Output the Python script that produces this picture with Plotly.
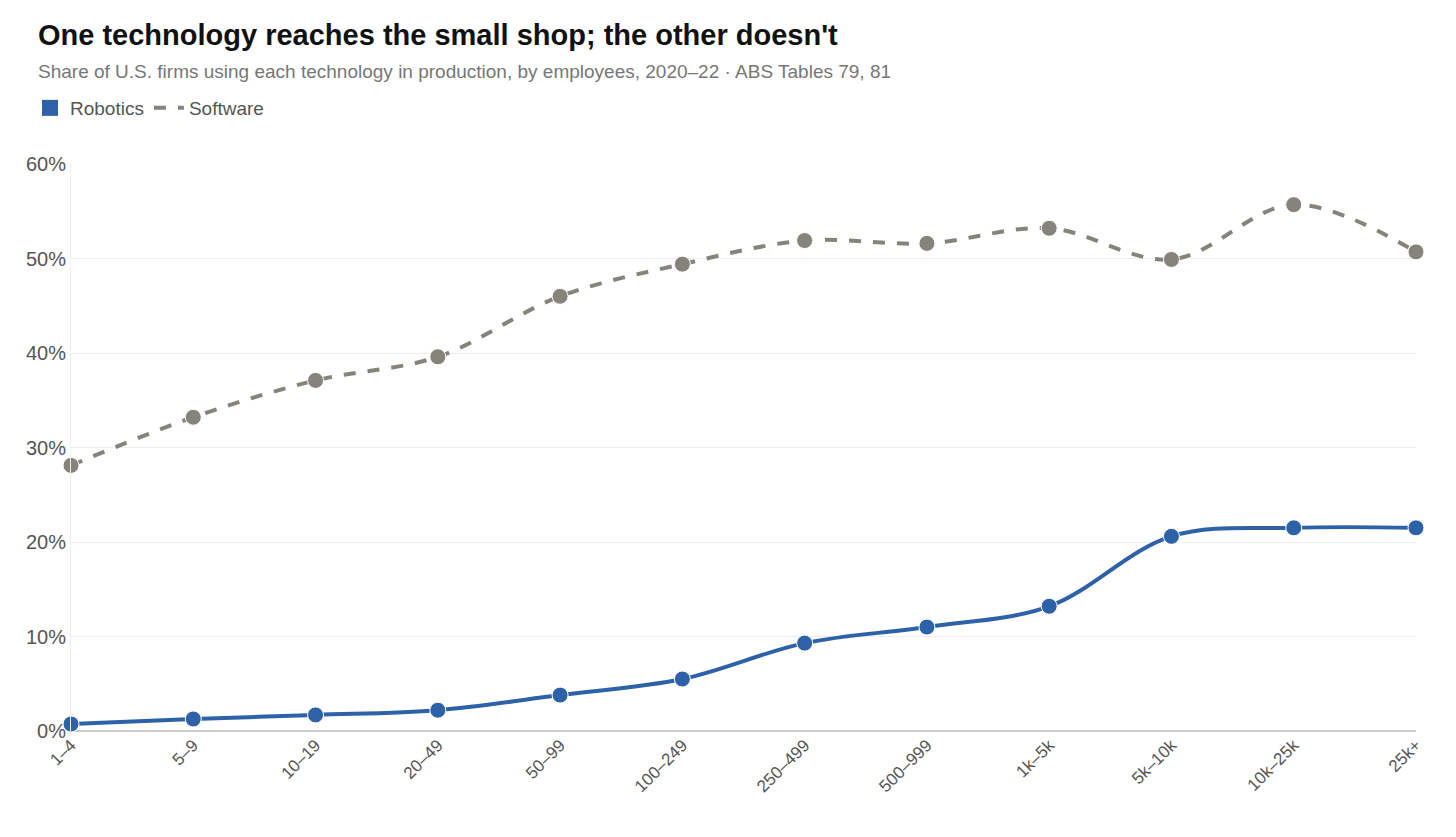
import plotly.graph_objects as go

categories = ["1–4","5–9","10–19","20–49","50–99","100–249","250–499","500–999","1k–5k","5k–10k","10k–25k","25k+"]
robotics = [0.74,1.27,1.7,2.2,3.8,5.5,9.3,11.0,13.2,20.6,21.5,21.5]
software = [28.1,33.2,37.1,39.6,46.0,49.4,51.9,51.6,53.2,49.9,55.7,50.7]

BLUE = "#2e62a8"
GREY = "#86847a"

W, H = 1440, 820
L, R, T, B = 63, 32, 156, 97

fig = go.Figure()
fig.add_trace(go.Scatter(x=categories, y=software, mode="lines+markers", showlegend=False,
    line=dict(color=GREY, width=4, dash="dash", shape="spline"),
    marker=dict(size=16, color=GREY, line=dict(color="white", width=1)), cliponaxis=False))
fig.add_trace(go.Scatter(x=categories, y=robotics, mode="lines+markers", showlegend=False,
    line=dict(color=BLUE, width=4, shape="spline"),
    marker=dict(size=16, color=BLUE, line=dict(color="white", width=1)), cliponaxis=False))
fig.add_trace(go.Scatter(x=[None], y=[None], mode="markers", name="Robotics",
    marker=dict(symbol="square", size=19, color=BLUE)))
fig.add_trace(go.Scatter(x=[None], y=[None], mode="lines", name="Software",
    line=dict(color=GREY, width=4, dash="dash")))

ph = H - T - B
def ypx(p):  # fig pixel from top -> paper y
    return (H - B - p) / ph
def xpx(p):
    return (p - L) / (W - L - R)

fig.update_layout(
    width=W, height=H, plot_bgcolor="white", paper_bgcolor="white",
    font=dict(family="Liberation Sans, Arial", color="#555"),
    margin=dict(l=L, r=R, t=T, b=B, autoexpand=False),
    annotations=[
        dict(text="<b>One technology reaches the small shop; the other doesn't</b>", x=xpx(28), y=ypx(27),
             xref="paper", yref="paper", xanchor="left", yanchor="middle", showarrow=False,
             font=dict(size=29, color="#111")),
        dict(text="Share of U.S. firms using each technology in production, by employees, 2020–22 · ABS Tables 79, 81",
             x=xpx(28), y=ypx(63), xref="paper", yref="paper", xanchor="left", yanchor="middle",
             showarrow=False, font=dict(size=19, color="#777")),
    ],
    legend=dict(orientation="h", x=xpx(22), xanchor="left", y=ypx(100), yanchor="middle",
                font=dict(size=19, color="#555"), itemwidth=30, tracegroupgap=0),
    xaxis=dict(showgrid=False, showline=False, tickangle=-45, tickfont=dict(size=17, color="#555"),
               range=[0, 11], ticks=""),
    yaxis=dict(range=[0, 60], dtick=10, ticksuffix="%", gridcolor="#eeeeee", zeroline=True,
               zerolinecolor="#cccccc", zerolinewidth=1.5, tickfont=dict(size=20, color="#555"),
               showline=True, linecolor="#eeeeee"),
)
fig.write_html("out.html")
